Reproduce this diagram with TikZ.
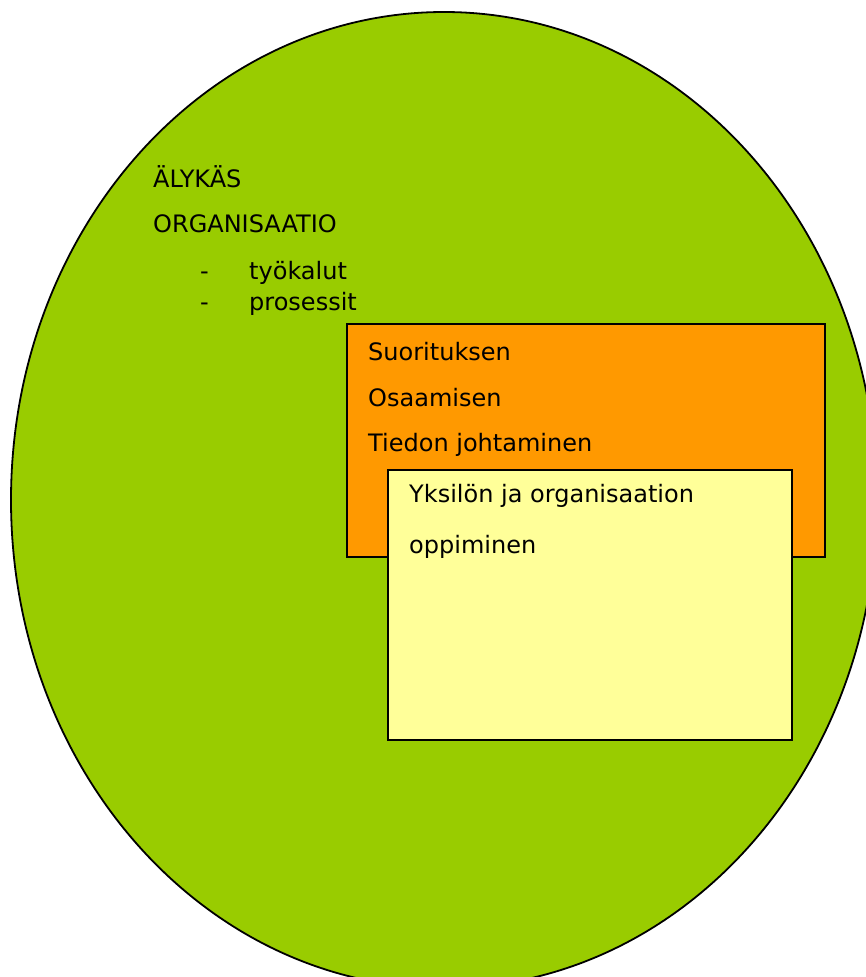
\documentclass[tikz,border=0pt]{standalone}
\usepackage{fontspec}
\usetikzlibrary{shapes.geometric}
\setmainfont{DejaVu Sans}
\begin{document}
\begin{tikzpicture}[x=1pt,y=-1pt,
  lbl/.style={anchor=base west,inner sep=0pt,font=\fontsize{24}{28}\selectfont},
  box/.style={draw=black,line width=1.6pt}]
\useasboundingbox (0,0) rectangle (866,977);
\begin{scope}
\clip (0,0) rectangle (866,977);
% the organisation as a whole
\node[ellipse, minimum width=866pt, minimum height=976pt, inner sep=0pt,
      fill={rgb,255:red,153;green,204;blue,0}, draw=black, line width=1.8pt] (org) at (444,500) {};
\end{scope}
\node[lbl] (t1) at (153,187) {ÄLYKÄS};
\node[lbl] (t2) at (153,232) {ORGANISAATIO};
\node[lbl] (d1) at (200,279) {-};
\node[lbl] (l1) at (249,279) {työkalut};
\node[lbl] (d2) at (200,310) {-};
\node[lbl] (l2) at (249,310) {prosessit};
% management layer
\filldraw[box, fill={rgb,255:red,255;green,153;blue,0}] (347,324) rectangle (825,557);
\node[lbl] (s1) at (368,360) {Suorituksen};
\node[lbl] (s2) at (368,406) {Osaamisen};
\node[lbl] (s3) at (368,451) {Tiedon johtaminen};
% learning layer
\filldraw[box, fill={rgb,255:red,255;green,255;blue,153}] (388,470) rectangle (792,740);
\node[lbl] (y1) at (409,502) {Yksilön ja organisaation};
\node[lbl] (y2) at (409,553) {oppiminen};
\end{tikzpicture}
\end{document}
